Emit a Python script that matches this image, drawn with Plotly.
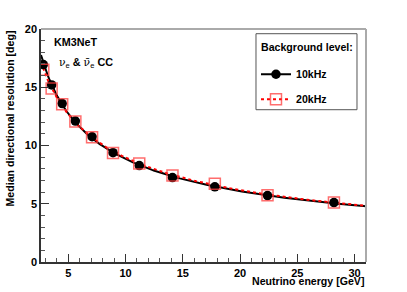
import numpy as np
import plotly.graph_objects as go

energy = [2.82, 3.55, 4.47, 5.62, 7.08, 8.91, 11.2, 14.1, 17.8, 22.4, 28.2]
res_10khz = [16.95, 15.2, 13.6, 12.1, 10.75, 9.38, 8.28, 7.25, 6.45, 5.7, 5.1]
res_20khz = [16.5, 14.9, 13.55, 12.05, 10.7, 9.35, 8.45, 7.42, 6.72, 5.72, 5.1]
series_names = ["10kHz", "20kHz"]
x_range = [2.62, 31.0]
y_range = [0, 20]

FONT = "Liberation Sans, Arial, sans-serif"
BLACK_LINE = dict(color="black", width=2)
RED_LINE = dict(color="red", width=2, dash="dot")
BLACK_MARK = dict(symbol="circle", size=9.5, color="black")
RED_MARK = dict(symbol="square-open", size=11, color="rgba(255,60,60,0.75)",
                line=dict(width=1.5))


def fit_curve(x, y):
    lx, ly = np.log(x), np.log(y)
    c = np.polyfit(lx, ly, 2)
    xf = np.linspace(x_range[0], x_range[1], 200)
    return xf, np.exp(np.polyval(c, np.log(xf)))


fig = go.Figure()

xf, yf = fit_curve(energy, res_10khz)
fig.add_trace(go.Scatter(x=xf, y=yf, mode="lines", line=BLACK_LINE,
                         showlegend=False, hoverinfo="skip"))
xf2, yf2 = fit_curve(energy, res_20khz)
fig.add_trace(go.Scatter(x=xf2, y=yf2, mode="lines", line=RED_LINE,
                         showlegend=False, hoverinfo="skip"))

fig.add_trace(go.Scatter(x=energy, y=res_10khz, mode="markers", marker=BLACK_MARK,
                         showlegend=False))
fig.add_trace(go.Scatter(x=energy, y=res_20khz, mode="markers", marker=RED_MARK,
                         showlegend=False))

# legend entries
fig.add_trace(go.Scatter(x=[None], y=[None], mode="lines+markers", name=series_names[0],
                         legendgroup="a", line=BLACK_LINE, marker=BLACK_MARK))
fig.add_trace(go.Scatter(x=[None], y=[None], mode="lines+markers", name=series_names[1],
                         legendgroup="b", line=RED_LINE, marker=RED_MARK))

axis_common = dict(showgrid=False, zeroline=False, ticks="inside", ticklen=8,
                   tickwidth=1, tickcolor="#333", showline=True, linecolor="#333",
                   linewidth=1.5,
                   tickfont=dict(family=FONT, size=11, color="black", weight="bold"),
                   minor=dict(ticks="inside", ticklen=4, dtick=1, tickcolor="#555",
                              tickwidth=1))

fig.update_xaxes(range=x_range, tick0=0, dtick=5, **axis_common)
fig.update_yaxes(range=y_range, tick0=0, dtick=5, **axis_common)

fig.add_shape(type="line", xref="x domain", yref="y domain", x0=0, x1=1, y0=1, y1=1,
              line=dict(color="#aaaaaa", width=2))
fig.add_shape(type="line", xref="x domain", yref="y domain", x0=1, x1=1, y0=0, y1=1,
              line=dict(color="#aaaaaa", width=2))
# legend frame
fig.add_shape(type="rect", xref="paper", yref="paper", x0=0.6615, x1=0.9723,
              y0=0.6536, y1=0.9798, line=dict(color="#555555", width=1),
              fillcolor="white", layer="above")

fig.add_annotation(text="Background level:", xref="paper", yref="paper", x=0.6708, y=0.924,
                   xanchor="left", yanchor="middle", showarrow=False,
                   font=dict(family=FONT, size=10.6, color="black", weight="bold"))
fig.add_annotation(text="Neutrino energy [GeV]", xref="paper", yref="paper", x=1, y=0,
                   xanchor="right", yanchor="middle", yshift=-19, showarrow=False,
                   font=dict(family=FONT, size=10.6, color="black", weight="bold"))
fig.add_annotation(text="Median directional resolution [deg]", xref="paper", yref="paper",
                   x=0, y=1, xanchor="center", yanchor="top", xshift=-31.5, textangle=-90,
                   showarrow=False,
                   font=dict(family=FONT, size=10.6, color="black", weight="bold"))
fig.add_annotation(text="KM3NeT", xref="paper", yref="paper", x=0.033, y=0.9425,
                   xanchor="left", yanchor="middle", showarrow=False,
                   font=dict(family=FONT, size=10.8, color="black", weight="bold"))
fig.add_annotation(text="<span style='font-family:DejaVu Serif'>ν</span><sub>e</sub> <b>&amp;</b> "
                        "<span style='font-family:DejaVu Serif'>ν̄</span><sub>e</sub> <b>CC</b>",
                   xref="paper", yref="paper", x=0.048, y=0.855,
                   xanchor="left", yanchor="middle", showarrow=False,
                   font=dict(family=FONT, size=10.8, color="black"))

fig.update_layout(
    width=407, height=292,
    margin=dict(l=41, r=41, t=29, b=30),
    paper_bgcolor="white", plot_bgcolor="white",
    legend=dict(x=0.6615, y=0.868, xanchor="left", yanchor="top",
                bgcolor="rgba(0,0,0,0)", borderwidth=0,
                font=dict(family=FONT, size=10.6, color="black", weight="bold"),
                itemwidth=30, tracegroupgap=6),
)

fig.write_html("out.html", config={"displayModeBar": False},
               post_script="document.body.style.margin='0';")
